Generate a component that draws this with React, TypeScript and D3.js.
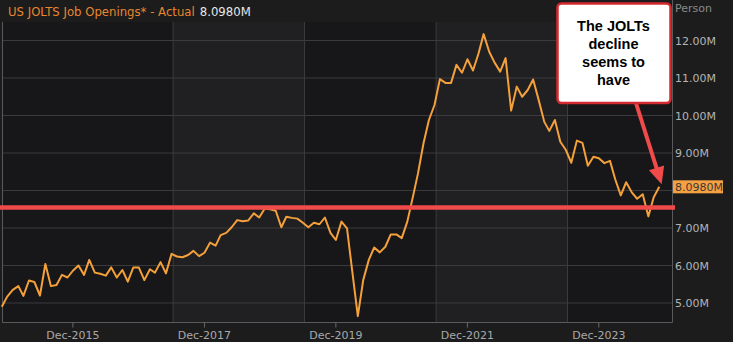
import React from "react";
import * as d3 from "d3";

// ---- data (monthly, Nov 2014 .. Nov 2024), millions of job openings ----
const startMonth = new Date(2014, 10, 1);
const openings: number[] = [
  4.9, 5.17, 5.35, 5.45, 5.19, 5.6, 5.56, 5.2, 6.04, 5.45, 5.48, 5.75, 5.68,
  5.86, 6.0, 5.75, 6.15, 5.81, 5.78, 5.73, 5.95, 5.68, 5.88, 5.57, 5.95, 5.95,
  5.61, 5.9, 5.81, 6.09, 5.79, 6.31, 6.24, 6.22, 6.28, 6.39, 6.25, 6.34, 6.61,
  6.53, 6.81, 6.87, 7.02, 7.21, 7.18, 7.2, 7.39, 7.28, 7.52, 7.5, 7.46, 7.02,
  7.3, 7.27, 7.25, 7.14, 7.02, 7.14, 7.1, 7.28, 6.87, 6.68, 7.17, 6.99, 5.85,
  4.65, 5.61, 6.15, 6.48, 6.35, 6.5, 6.83, 6.83, 6.73, 7.17, 7.83, 8.45, 9.26,
  9.88, 10.28, 10.97, 10.87, 10.87, 11.35, 11.14, 11.5, 11.2, 11.66, 12.17,
  11.7, 11.41, 11.17, 11.53, 10.13, 10.77, 10.5, 10.68, 10.96, 10.41, 9.83,
  9.59, 9.88, 9.3, 9.08, 8.74, 9.33, 9.27, 8.66, 8.9, 8.86, 8.73, 8.79, 8.3,
  7.87, 8.22, 7.95, 7.78, 7.9, 7.31, 7.82, 8.098,
];
const yTicks: number[] = [5, 6, 7, 8, 9, 10, 11, 12];
const xTickDates: Date[] = [
  new Date(2015, 11, 1),
  new Date(2017, 11, 1),
  new Date(2019, 11, 1),
  new Date(2021, 11, 1),
  new Date(2023, 11, 1),
];
const bandEdges: Date[] = [
  new Date(2017, 5, 10),
  new Date(2019, 5, 10),
  new Date(2021, 5, 10),
  new Date(2023, 5, 10),
];
const titleText = "US JOLTS Job Openings* - Actual";
const lastLabel = "8.0980M";
const unitLabel = "Person";
const thresholdLevel = 7.55;
const noteLines: string[] = ["The JOLTs", "decline", "seems to", "have"];
const arrowTipDate = new Date(2024, 10, 14);
const arrowTipValue = 8.17;

const W = 733;
const H = 342;
const plotLeft = 2.5;
const plotRight = 672.5;
const plotTop = 22;
const plotBottom = 322.5;

export default function App() {
  const data = openings.map((v, i) => ({
    date: d3.timeMonth.offset(startMonth, i),
    value: v,
  }));
  const x = d3
    .scaleTime()
    .domain([startMonth, data[data.length - 1].date])
    .range([1.8, 659.3]);
  const y = d3.scaleLinear().domain([5, 12]).range([303, 40.5]);
  const line = d3
    .line<{ date: Date; value: number }>()
    .x((d) => x(d.date))
    .y((d) => y(d.value));

  const fmt = d3.timeFormat("%b-%Y");
  const edges = [plotLeft, ...bandEdges.map((d) => x(d)), plotRight];
  const bands = edges.slice(0, -1).map((e, i) => ({
    x0: e,
    x1: edges[i + 1],
    dark: i % 2 === 0,
  }));

  const last = data[data.length - 1];
  const yLast = y(last.value);

  // arrow
  const sx = 636;
  const sy = 103;
  const tx = x(arrowTipDate);
  const ty = y(arrowTipValue);
  const dx = tx - sx;
  const dy = ty - sy;
  const len = Math.sqrt(dx * dx + dy * dy);
  const ux = dx / len;
  const uy = dy / len;
  const headLen = 17;
  const headHalf = 8;
  const bx = tx - ux * headLen;
  const by = ty - uy * headLen;
  const head = [
    [tx, ty],
    [bx - uy * headHalf, by + ux * headHalf],
    [bx + uy * headHalf, by - ux * headHalf],
  ]
    .map((p) => p.join(","))
    .join(" ");

  const font = "'DejaVu Sans', Verdana, sans-serif";

  return (
    <svg
      width={W}
      height={H}
      style={{ position: "absolute", left: 0, top: 0, display: "block" }}
    >
      <rect x={0} y={0} width={W} height={H} fill="#1c1c1d" />
      {bands.map((b, i) => (
        <rect
          key={i}
          x={b.x0}
          y={plotTop}
          width={b.x1 - b.x0}
          height={plotBottom - plotTop}
          fill={b.dark ? "#171618" : "#201f22"}
        />
      ))}
      {yTicks.map((t) => (
        <line
          key={t}
          x1={plotLeft}
          x2={plotRight}
          y1={y(t)}
          y2={y(t)}
          stroke="#3b3b3d"
          strokeWidth={1}
        />
      ))}
      {bandEdges.map((d, i) => (
        <line
          key={i}
          x1={x(d)}
          x2={x(d)}
          y1={plotTop}
          y2={plotBottom}
          stroke="#3b3b3d"
          strokeWidth={1}
        />
      ))}
      {/* frame */}
      <line x1={plotLeft} x2={plotLeft} y1={plotTop} y2={plotBottom} stroke="#5a5a5c" />
      <line x1={plotRight} x2={plotRight} y1={0} y2={plotBottom} stroke="#5a5a5c" />
      <line x1={plotLeft} x2={plotRight} y1={plotBottom} y2={plotBottom} stroke="#5a5a5c" />

      {/* x ticks */}
      {xTickDates.map((d, i) => (
        <g key={i}>
          <line
            x1={x(d)}
            x2={x(d)}
            y1={plotBottom}
            y2={plotBottom + 5}
            stroke="#6a6a6a"
          />
          <text
            x={x(d)}
            y={339}
            textAnchor="middle"
            fontFamily={font}
            fontSize={11}
            fill="#a9a9a9"
          >
            {fmt(d)}
          </text>
        </g>
      ))}

      {/* y labels */}
      <text x={675} y={12} fontFamily={font} fontSize={11} fill="#8a8a8a">
        {unitLabel}
      </text>
      {yTicks
        .filter((t) => Math.abs(y(t) - yLast) > 10)
        .map((t) => (
          <text
            key={t}
            x={675}
            y={y(t) + 4}
            fontFamily={font}
            fontSize={11}
            fill="#b4b4b4"
          >
            {d3.format(".2f")(t) + "M"}
          </text>
        ))}

      {/* series */}
      <path
        d={line(data) || ""}
        fill="none"
        stroke="#f4a03b"
        strokeWidth={2}
        strokeLinejoin="round"
      />

      {/* threshold line */}
      <line
        x1={0}
        x2={675}
        y1={y(thresholdLevel)}
        y2={y(thresholdLevel)}
        stroke="#f04a4a"
        strokeWidth={4.5}
      />

      {/* last value label */}
      <rect x={673} y={yLast - 6.5} width={50} height={13} fill="#f5a142" />
      <text
        x={675}
        y={yLast + 4}
        fontFamily={font}
        fontSize={11}
        fill="#3a3a3a"
      >
        {lastLabel}
      </text>

      {/* title */}
      <text x={8} y={16} fontFamily={font} fontSize={11.7}>
        <tspan fill="#e8862d">{titleText}</tspan>
        <tspan fill="#e6e6e6" dx={5}>
          {lastLabel}
        </tspan>
      </text>

      {/* annotation */}
      <line
        x1={sx}
        y1={sy}
        x2={bx + ux * 2}
        y2={by + uy * 2}
        stroke="#f04a4a"
        strokeWidth={4}
      />
      <polygon points={head} fill="#f04a4a" />
      <rect
        x={557.5}
        y={3.5}
        width={113}
        height={99.5}
        rx={4}
        fill="#ffffff"
        stroke="#d42a2f"
        strokeWidth={2.5}
      />
      {noteLines.map((l, i) => (
        <text
          key={i}
          x={613.5}
          y={31 + i * 18}
          textAnchor="middle"
          fontFamily="'Liberation Sans', Arial, sans-serif"
          fontWeight="bold"
          fontSize={14.5}
          fill="#000"
        >
          {l}
        </text>
      ))}
    </svg>
  );
}
